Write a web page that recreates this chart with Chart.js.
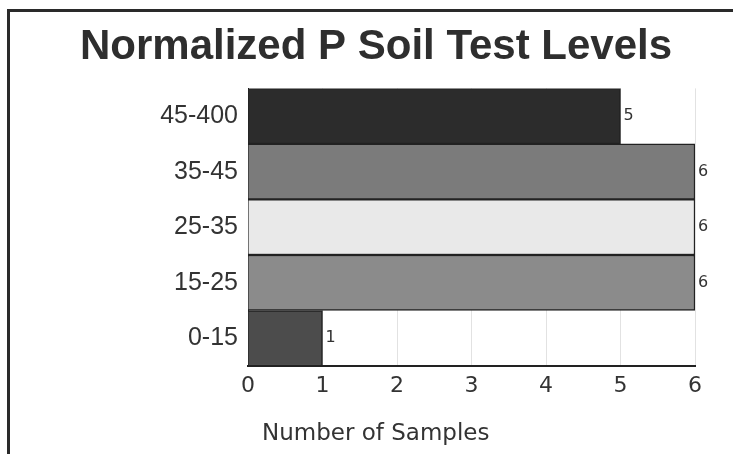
<!DOCTYPE html>
<html>
<head>
<meta charset="utf-8">
<script src="https://cdn.jsdelivr.net/npm/chart.js@4"></script>
<style>
  html, body { margin: 0; padding: 0; background: #fff; }
  #wrap { position: relative; width: 733px; height: 454px; }
  #frame { position: absolute; left: 7px; top: 9px; right: 0; bottom: -5px;
           border-top: 3px solid #2a2a2a; border-left: 3px solid #2a2a2a; pointer-events: none; }
</style>
</head>
<body>
<div id="wrap">
  <canvas id="chart" width="733" height="454"></canvas>
  <div id="frame"></div>
</div>
<script>
// Daten
const categories = ['45-400', '35-45', '25-35', '15-25', '0-15'];
const samples = [5, 6, 6, 6, 1];
const barColors = ['#2c2c2c', '#7b7b7b', '#e9e9e9', '#8b8b8b', '#4c4c4c'];
const xTicks = [0, 1, 2, 3, 4, 5, 6];

// Werte rechts neben die Balken schreiben
const valueLabels = {
    id: 'valueLabels',
    afterDatasetsDraw(chart) {
        const ctx = chart.ctx;
        const meta = chart.getDatasetMeta(0);
        ctx.save();
        ctx.font = '16px "DejaVu Sans"';
        ctx.fillStyle = '#333';
        ctx.textBaseline = 'middle';
        meta.data.forEach((bar, i) => {
            ctx.fillText(String(samples[i]), bar.x + 3, bar.y);
        });
        ctx.restore();
    }
};

// Achsentitel, etwas eingerückt wie im Original
const axisTitle = {
    id: 'axisTitle',
    afterDraw(chart) {
        const ctx = chart.ctx;
        ctx.save();
        ctx.font = '23px "DejaVu Sans"';
        ctx.fillStyle = '#333';
        ctx.textBaseline = 'middle';
        ctx.fillText('Number of Samples', chart.chartArea.left + 14, 434);
        ctx.restore();
    }
};

new Chart(document.getElementById('chart'), {
    type: 'bar',
    data: {
        labels: categories,
        datasets: [{
            label: 'Number of Samples',
            data: samples,
            backgroundColor: barColors,
            borderColor: '#222',
            borderWidth: 1.5,
            barPercentage: 1,
            categoryPercentage: 1
        }]
    },
    options: {
        indexAxis: 'y',
        responsive: false,
        animation: false,
        layout: { padding: { top: 0, right: 38, bottom: 0, left: 80 } },
        plugins: {
            legend: { display: false },
            tooltip: { enabled: false },
            title: {
                display: true,
                align: 'start',
                text: 'Normalized P Soil Test Levels',
                color: '#2e2e2e',
                font: { family: '"Liberation Sans", Arial', size: 42, weight: 'bold' },
                padding: { top: 22, bottom: 16 }
            }
        },
        scales: {
            x: {
                min: 0,
                max: 6,
                afterBuildTicks(scale) {
                    scale.ticks = xTicks.map(v => ({ value: v }));
                },
                afterFit(scale) { scale.height = 88; },
                grid: { color: '#e2e2e2', drawTicks: false },
                border: { display: true, color: '#222', width: 2 },
                ticks: {
                    color: '#333',
                    padding: 7,
                    font: { family: '"DejaVu Sans"', size: 22 }
                }
            },
            y: {
                afterFit(scale) { scale.width = 168; },
                grid: { display: false, drawTicks: false },
                border: { display: true, color: '#222', width: 1 },
                ticks: {
                    color: '#333',
                    padding: 10,
                    font: { family: '"Liberation Sans", Arial', size: 25 }
                }
            }
        }
    },
    plugins: [valueLabels, axisTitle]
});
</script>
</body>
</html>
